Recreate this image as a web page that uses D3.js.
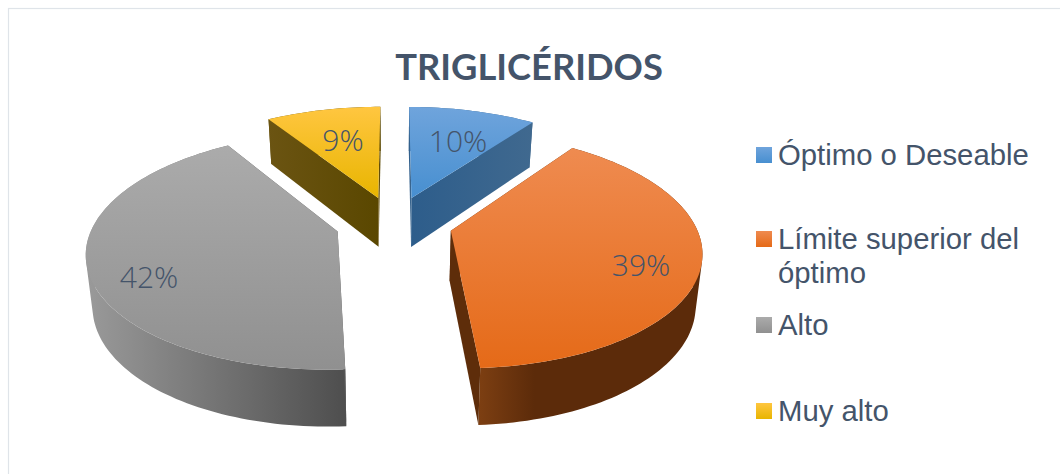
<!DOCTYPE html>
<html><head><meta charset="utf-8">
<script src="https://cdnjs.cloudflare.com/ajax/libs/d3/7.8.5/d3.min.js"></script>
<style>html,body{margin:0;padding:0;background:#fff;overflow:hidden}svg{display:block}</style>
</head><body><svg id="c" width="1060" height="474"></svg>
<script>
const title = "TRIGLICÉRIDOS";
const categories = ["Óptimo o Deseable", "Límite superior del óptimo", "Alto", "Muy alto"];
const legendLines = [["Óptimo o Deseable"], ["Límite superior del", "óptimo"], ["Alto"], ["Muy alto"]];
const values = [10, 39, 42, 9];
const labels = ["10%", "39%", "42%", "9%"];
const topColors = [["#6fa4dc","#478fd0"],["#ef8b50","#e56a18"],["#ababab","#909090"],["#ffc640","#e8b500"]];
const wallColors = [["#2d5d8b","#40698f"],["#7d3f12","#5c2b0a"],["#9a9a9a","#4e4e4e"],["#6b5412","#5a4700"]];
const cutColors = ["url(#wall0)","#5e2d0a","#555555","url(#wall3)"];
const legendY = [155, 239, 325, 411];
const labelPos = [[458,142],[641,266],[149,278],[343,141]];

const svg = d3.select("#c");
const defs = svg.append("defs");
const ACC = "#44546a";

svg.append("rect").attr("x",8.5).attr("y",8.5).attr("width",1100).attr("height",500)
  .attr("fill","#fff").attr("stroke","#dfe4e9").attr("stroke-width",1.2);

const cx=394, cy=223, R=244, S=113, k=0.16, D=50, explode=0.24, shrink=0.022;
const proj=(u,v,z)=>{const w=1+k*v; return [cx+(u*R/w)*(1-shrink*z), cy-v*S/w+z*D/Math.pow(w,0.7)];};

const arcs = d3.pie().sort(null).value(d=>d)(values);
const line = d3.line();
const order=[3,0,2,1];

function grad(id,c,horizontal,mid){
  const g=defs.append("linearGradient").attr("id",id).attr("x1",0).attr("y1",0)
    .attr("x2",horizontal?1:0).attr("y2",horizontal?0:1);
  g.append("stop").attr("offset",0).attr("stop-color",c[0]);
  if(mid) g.append("stop").attr("offset",mid).attr("stop-color",c[1]);
  g.append("stop").attr("offset",1).attr("stop-color",c[1]);
}
values.forEach((_,i)=>{grad("top"+i,topColors[i],false);grad("wall"+i,wallColors[i],true,i===1?0.25:null);});

order.forEach(i=>{
  const a=arcs[i], mid=(a.startAngle+a.endAngle)/2;
  const ou=explode*Math.sin(mid), ov=explode*Math.cos(mid);
  const n=Math.max(8,Math.ceil((a.endAngle-a.startAngle)*40));
  const thetas=d3.range(n+1).map(j=>a.startAngle+(a.endAngle-a.startAngle)*j/n);
  const rim=z=>thetas.map(t=>proj(ou+Math.sin(t),ov+Math.cos(t),z));
  const apex=z=>proj(ou,ov,z);
  const g=svg.append("g");
  const r0=rim(0), r1=rim(1);
  // outer wall: a union of consistently wound quads, so the silhouette stays closed
  const quads=d3.range(n).map(j=>{
    const q=[r0[j],r0[j+1],r1[j+1],r1[j]];
    return line(d3.polygonArea(q)<0?q.slice().reverse():q)+"Z";
  }).join("");
  g.append("path").attr("d",quads).attr("fill","url(#wall"+i+")");
  g.append("path").attr("d",line([apex(0),r0[0],r1[0],apex(1)])+"Z").attr("fill",cutColors[i]);
  g.append("path").attr("d",line([apex(0),r0[n],r1[n],apex(1)])+"Z").attr("fill",cutColors[i]);
  g.append("path").attr("d",line([apex(0)].concat(r0))+"Z").attr("fill","url(#top"+i+")");
});

svg.append("g").selectAll("text").data(labels).join("text")
  .attr("x",(d,i)=>labelPos[i][0]).attr("y",(d,i)=>labelPos[i][1]+10)
  .attr("text-anchor","middle").attr("font-family","'Open Sans',sans-serif").attr("font-weight",300)
  .attr("font-size",30).attr("fill",ACC).text(d=>d);

svg.append("text").attr("x",529).attr("y",80).attr("text-anchor","middle")
  .attr("font-family","Lato,'Open Sans',sans-serif").attr("font-weight",700).attr("font-size",36.3)
  .attr("fill",ACC).text(title);

const lg=svg.append("g").selectAll("g").data(categories).join("g");
lg.append("rect").attr("x",756).attr("y",(d,i)=>legendY[i]-8).attr("width",16).attr("height",16)
  .attr("fill",(d,i)=>"url(#top"+i+")");
lg.each(function(d,i){
  legendLines[i].forEach((t,j)=>{
    d3.select(this).append("text").attr("x",778).attr("y",legendY[i]+10+j*34)
      .attr("font-family","'Liberation Sans',Arial,sans-serif").attr("font-size",29.3)
      .attr("fill",ACC).text(t);
  });
});
</script></body></html>
